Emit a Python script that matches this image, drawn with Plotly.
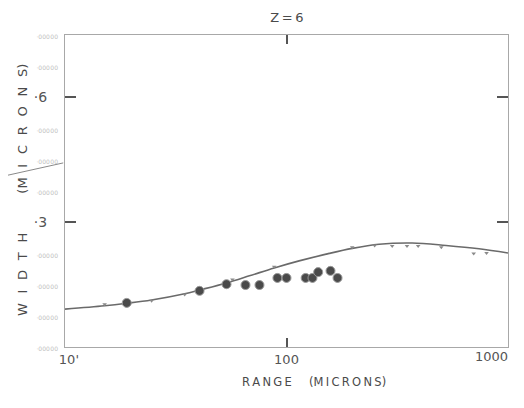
import plotly.graph_objects as go

# Theory curve (range in microns, width in microns)
curve_range = [10, 15.1, 19.0, 24.6, 34.7, 40.5, 53.6, 68, 88, 114, 156, 198, 262, 369, 525, 740, 1000]
curve_width = [0.91, 0.99, 1.05, 1.13, 1.28, 1.37, 1.54, 1.71, 1.90, 2.07, 2.25, 2.37, 2.47, 2.50, 2.44, 2.36, 2.26]

# Small calculated marks along the curve
calc_range = [15.1, 24.6, 34.7, 57, 88, 198, 250, 300, 350, 393, 500, 700, 800]
calc_width = [1.03, 1.11, 1.26, 1.62, 1.93, 2.40, 2.44, 2.43, 2.43, 2.43, 2.40, 2.25, 2.26]

# Measured points
meas_range = [19.0, 40.5, 53.6, 65.3, 75.5, 91, 100, 122, 131, 139, 158, 170]
meas_width = [1.06, 1.35, 1.51, 1.49, 1.49, 1.66, 1.66, 1.66, 1.66, 1.80, 1.83, 1.66]

x_tickvals = [10, 100]
x_ticktext = ["\u2002\u200a10'", "100"]
x_end_tickvals = [1000]
x_end_ticktext = ["1000"]
y_major = [3, 6]
y_major_text = ["\u00b73\u2003", "\u00b76\u2003"]
y_minor = [0, 0.75, 1.5, 2.25, 3.75, 4.5, 5.25, 6.75, 7.5]

ink = "#4a4a4a"
faint = "<span style='color:#c0c0c0;font-size:6px'>\u00b7000\u200a00</span>"

# the page body adds an 8px offset; the figure is sized so the page is exactly 524x408
fig = go.Figure()
fig.add_trace(go.Scatter(x=curve_range, y=curve_width, mode="lines",
                         line=dict(color="#6a6a6a", width=1.6, shape="spline", smoothing=1.0),
                         hoverinfo="skip", showlegend=False))
fig.add_trace(go.Scatter(x=calc_range, y=calc_width, mode="markers",
                         marker=dict(symbol="triangle-down", size=4, color="#8a8a8a"),
                         showlegend=False))
fig.add_trace(go.Scatter(x=meas_range, y=meas_width, mode="markers",
                         marker=dict(symbol="circle", size=9, color="#4a4a4a",
                                     line=dict(color="#999999", width=1)),
                         showlegend=False))
# invisible traces to carry the auxiliary label axes
fig.add_trace(go.Scatter(x=[10], y=[0], yaxis="y2", mode="markers",
                         marker=dict(opacity=0), hoverinfo="skip", showlegend=False))
fig.add_trace(go.Scatter(x=[10], y=[0], xaxis="x2", mode="markers",
                         marker=dict(opacity=0), hoverinfo="skip", showlegend=False))

fig.update_layout(
    width=508, height=392,
    margin=dict(l=57, r=8, t=27, b=53),
    paper_bgcolor="white", plot_bgcolor="white",
    font=dict(family="DejaVu Sans", color=ink),
    title=dict(text="Z\u2009=\u20096", xref="paper", x=0.501, xanchor="center",
               yref="container", y=0.977, yanchor="middle",
               font=dict(size=13, color=ink)),
    xaxis=dict(type="log", range=[1, 3], tickvals=x_tickvals, ticktext=x_ticktext,
               ticks="inside", ticklen=9, tickcolor="#555", tickwidth=1.5,
               showline=True, linecolor="#a8a8a8", linewidth=1, mirror="ticks",
               showgrid=False, zeroline=False, automargin=False,
               ticklabeloverflow="allow",
               tickfont=dict(size=13, color="#555")),
    xaxis2=dict(type="log", range=[1, 3], overlaying="x", side="bottom",
                tickvals=x_end_tickvals, ticktext=x_end_ticktext, ticks="",
                ticklabelposition="outside left", showgrid=False, zeroline=False,
                showline=False, automargin=False, ticklabeloverflow="allow",
                tickfont=dict(size=13, color="#555")),
    yaxis=dict(range=[0, 7.5], tickvals=y_major, ticktext=y_major_text,
               ticks="inside", ticklen=11, tickcolor="#555", tickwidth=1.5,
               showline=True, linecolor="#a8a8a8", linewidth=1, mirror="ticks",
               showgrid=False, zeroline=False, automargin=False,
               tickfont=dict(size=14, color="#555")),
    yaxis2=dict(range=[0, 7.5], overlaying="y", side="left", tickvals=y_minor,
                ticktext=[faint] * len(y_minor), ticks="", showgrid=False,
                zeroline=False, showline=False, ticklabelstandoff=6, automargin=False),
    annotations=[
        dict(text="R\u2009A\u2009N\u2009G\u2009E\u2003\u2002(M\u2009I\u2009C\u2009R\u2009O\u2009N\u2009S)",
             xref="paper", yref="paper", x=0.562, y=-0.112, xanchor="center", yanchor="middle",
             showarrow=False, font=dict(size=11.5, color=ink)),
        dict(text="W\u2002\u2005I\u2002\u2005D\u2002\u2005T\u2002\u2005H\u2003\u2003\u2003(M\u2002\u2005I\u2002\u2005C\u2002\u2005R\u2002\u2005O\u2002\u2005N\u2002\u2005S)",
             xref="paper", yref="paper", x=-0.097, y=0.503, xanchor="center", yanchor="middle",
             textangle=-90, showarrow=False, font=dict(size=13, color=ink)),
    ],
    shapes=[dict(type="line", xref="paper", yref="paper", x0=-0.147, y0=0.545,
                 x1=-0.004, y1=0.590, line=dict(color="#8a8a8a", width=1))],
)

fig.write_html("out.html")
